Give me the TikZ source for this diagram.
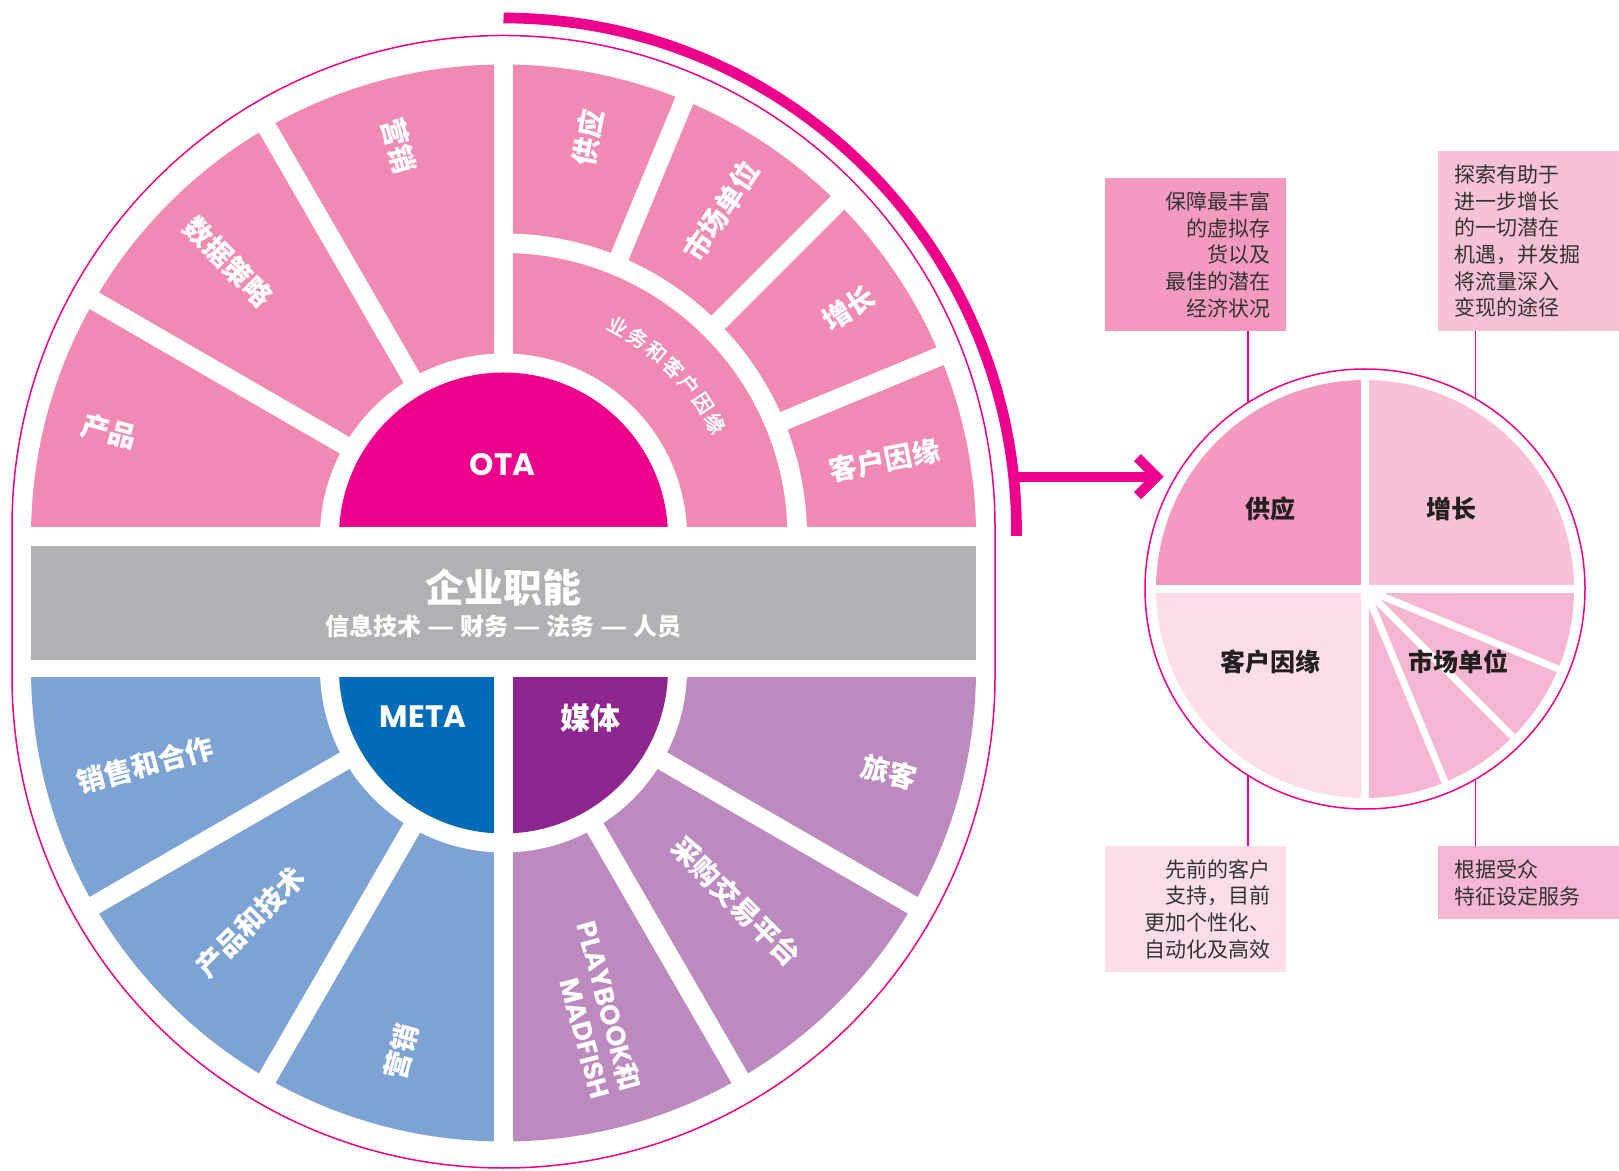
\documentclass[tikz,border=0pt]{standalone}
\usepackage{fontspec}
\newfontfamily\cjk{Noto Sans CJK SC}
\newfontfamily\cjkm{Noto Sans CJK SC}[FakeBold=2.5]
\newfontfamily\pop{Poppins}
\usetikzlibrary{calc}
\definecolor{magc}{HTML}{EC008C}
\definecolor{wpink}{HTML}{F189B5}
\definecolor{otac}{HTML}{EC008C}
\definecolor{greyc}{HTML}{B0B1B4}
\definecolor{metac}{HTML}{006BB6}
\definecolor{bluering}{HTML}{7DA3D4}
\definecolor{mediac}{HTML}{8E268F}
\definecolor{purplering}{HTML}{BC8ABE}
\definecolor{pa}{HTML}{F49AC1}
\definecolor{pb}{HTML}{F7C1D8}
\definecolor{pc}{HTML}{FCDDE9}
\definecolor{pd}{HTML}{F5B6D4}
\definecolor{txtc}{HTML}{333333}
\definecolor{lblc}{HTML}{231F20}
\begin{document}
\begin{tikzpicture}[x=1pt,y=1pt,
  gapline/.style={white, line width=19},
  wl/.style={font=\cjk\bfseries\fontsize{28}{30}\selectfont, text=white, inner sep=0},
  pl/.style={font=\cjk\bfseries\fontsize{25}{27}\selectfont, text=lblc, inner sep=0},
  txtbox/.style={inner xsep=16, inner ysep=0, text width=149, minimum width=181,
     font=\cjk\fontsize{21}{26.7}\selectfont, text=txtc, anchor=north west},
  conn/.style={magc, line width=1.5}]
\useasboundingbox (0,0) rectangle (1619,1170);
\coordinate (T) at (503.5,633);
\coordinate (B) at (503.5,501);
\coordinate (P) at (1365,581);

% ---------- top half ----------
\begin{scope}
\clip (0,643) rectangle (1000,1170);
\fill[wpink] (T) circle[radius=472.5];
\fill[white] (T) circle[radius=183.5];
\fill[white] ($(T)+(0:284)$) arc[start angle=0,end angle=90,radius=284]
   -- ($(T)+(90:303.5)$) arc[start angle=90,end angle=0,radius=303.5] -- cycle;
\foreach \a in {150,120,90} \draw[gapline] ($(T)+(\a:160)$) -- ($(T)+(\a:480)$);
\foreach \a in {67.5,45,22.5} \draw[gapline] ($(T)+(\a:290)$) -- ($(T)+(\a:480)$);
\fill[otac] (T) circle[radius=164.5];
\end{scope}

% ---------- bottom half ----------
\begin{scope}
\clip (0,0) rectangle (1000,492);
\fill[bluering] (B) -- ($(B)+(180:472.5)$) arc[start angle=180,end angle=270,radius=472.5] -- cycle;
\fill[purplering] (B) -- ($(B)+(270:472.5)$) arc[start angle=270,end angle=360,radius=472.5] -- cycle;
\fill[white] (B) circle[radius=183.5];
\fill[metac] (B) -- ($(B)+(180:164.5)$) arc[start angle=180,end angle=270,radius=164.5] -- cycle;
\fill[mediac] (B) -- ($(B)+(270:164.5)$) arc[start angle=270,end angle=360,radius=164.5] -- cycle;
\foreach \a in {210,240,300,330} \draw[gapline] ($(B)+(\a:170)$) -- ($(B)+(\a:480)$);
\draw[gapline] (B) -- ($(B)+(270:480)$);
\end{scope}

% ---------- grey band ----------
\node[fill=greyc, minimum width=945, minimum height=114, inner sep=0, anchor=south west] (band) at (31,510) {};
\node[font=\cjk\bfseries\fontsize{39}{40}\selectfont, text=white, inner sep=0] (t1) at (503.5,582) {企业职能};
\node[font=\cjk\bfseries\fontsize{24}{26}\selectfont, text=white, inner sep=0] (t2) at (503.5,544)
  {信息技术 \scalebox{1.25}[1]{—} 财务 \scalebox{1.25}[1]{—} 法务 \scalebox{1.25}[1]{—} 人员};

% ---------- outline and thick arc ----------
\draw[magc, line width=1.5] (12,643) arc[start angle=180,end angle=0,radius=491.5]
   -- (995,493.5) arc[start angle=0,end angle=-180,radius=491.5] -- cycle;
\coordinate (arcA) at (503.5,1152);
\draw[magc, line width=10.7] (arcA) arc[start angle=90,end angle=0,radius=513] -- ++(0,-5);
\coordinate (arS) at (1013.6,693.3);
\coordinate (arT) at (1156.5,693.3);
\draw[magc, line width=10] (arS) -- ([xshift=-6]arT);
\draw[magc, line width=10, miter limit=4] ([shift={(-19,19)}]arT) -- (arT) -- ([shift={(-19,-19)}]arT);

% ---------- wheel labels ----------
\node[font=\pop\bfseries\fontsize{31}{32}\selectfont, text=white, inner sep=0] (ota) at (502.5,705) {OTA};
\node[font=\pop\bfseries\fontsize{31}{32}\selectfont, text=white, inner sep=0] (meta) at (423,453) {META};
\node[font=\cjk\bfseries\fontsize{30}{31}\selectfont, text=white, inner sep=0] (media) at (590,452) {媒体};

\node[wl, rotate=-15] (lp1) at ($(T)+(165:408)$) {产品};
\node[wl, rotate=-45] (lp2) at ($(T)+(135:389)$) {数据策略};
\node[wl, rotate=-75] (lp3) at ($(T)+(105:405)$) {营销};
\node[wl, rotate=78.75] (lp4) at ($(T)+(78:408)$) {供应};
\node[wl, rotate=56.25] (lp5) at ($(T)+(56.25:392)$) {市场单位};
\node[wl, rotate=33.75] (lp6) at ($(T)+(33.5:414)$) {增长};
\node[wl, rotate=11.25] (lp7) at ($(T)+(11.4:389)$) {客户因缘};

\foreach \ch [count=\k from 0] in {业,务,和,客,户,因,缘}{
  \pgfmathsetmacro\ang{61.6-5.55*\k}
  \pgfmathsetmacro\rot{\ang-90}
  \node[font=\cjkm\fontsize{20}{22}\selectfont, text=white, inner sep=0, rotate=\rot] (rg\k) at ($(T)+(\ang:240)$) {\ch};
}

\node[wl, rotate=15] (lb1) at ($(B)+(195:371)$) {销售和合作};
\node[wl, rotate=45] (lb2) at ($(B)+(225:358)$) {产品和技术};
\node[wl, rotate=75] (lb3) at ($(B)+(255:396)$) {营销};
\node[wl, rotate=-15] (lb4) at ($(B)+(345:399)$) {旅客};
\node[wl, rotate=-45] (lb5) at ($(B)+(315:329)$) {采购交易平台};
\node[wl, rotate=-75, align=right, font=\cjk\bfseries\fontsize{27}{31}\selectfont] (lb6) at ($(B)+(285:353)$) {{\pop\bfseries PLAYBOOK}和\\{\pop\bfseries MADFISH}};

% ---------- pie ----------
\fill[pa] (P) -- ++(180:209) arc[start angle=180,end angle=90,radius=209] -- cycle;
\fill[pb] (P) -- ++(90:209) arc[start angle=90,end angle=0,radius=209] -- cycle;
\fill[pc] (P) -- ++(180:209) arc[start angle=180,end angle=270,radius=209] -- cycle;
\fill[pd] (P) -- ++(270:209) arc[start angle=270,end angle=360,radius=209] -- cycle;
\draw[white, line width=8] ($(P)+(-212,0)$) -- ($(P)+(212,0)$);
\draw[white, line width=8] ($(P)+(0,-212)$) -- ($(P)+(0,212)$);
\foreach \a in {-22.5,-45,-67.5} \draw[white, line width=7] (P) -- ++(\a:212);
\node[circle, draw=magc, line width=1.5, minimum size=440, inner sep=0] (pie) at (P) {};

\node[pl] (s1) at (1270,661) {供应};
\node[pl] (s2) at (1451,661) {增长};
\node[pl] (s3) at (1270,508) {客户因缘};
\node[pl] (s4) at (1458,508) {市场单位};

% ---------- text boxes ----------
\node[txtbox, fill=pa, minimum height=153, align=right] (b1) at (1105,992)
  {保障最丰富\\的虚拟存\\货以及\\最佳的潜在\\经济状况};
\node[txtbox, fill=pb, minimum height=180, align=left] (b2) at (1438,1019)
  {探索有助于\\进一步增长\\的一切潜在\\机遇，并发掘\\将流量深入\\变现的途径};
\node[txtbox, fill=pc, minimum height=126, align=right] (b3) at (1105,324)
  {先前的客户\\支持，目前\\更加个性化、\\自动化及高效};
\node[txtbox, fill=pd, minimum height=73, align=left] (b4) at (1438,324)
  {根据受众\\特征设定服务};

\draw[conn] (pie.122) -- (pie.122 |- b1.south);
\draw[conn] (pie.60) -- (pie.60 |- b2.south);
\draw[conn] (pie.-122) -- (pie.-122 |- b3.north);
\draw[conn] (pie.-60) -- (pie.-60 |- b4.north);
\end{tikzpicture}
\end{document}
